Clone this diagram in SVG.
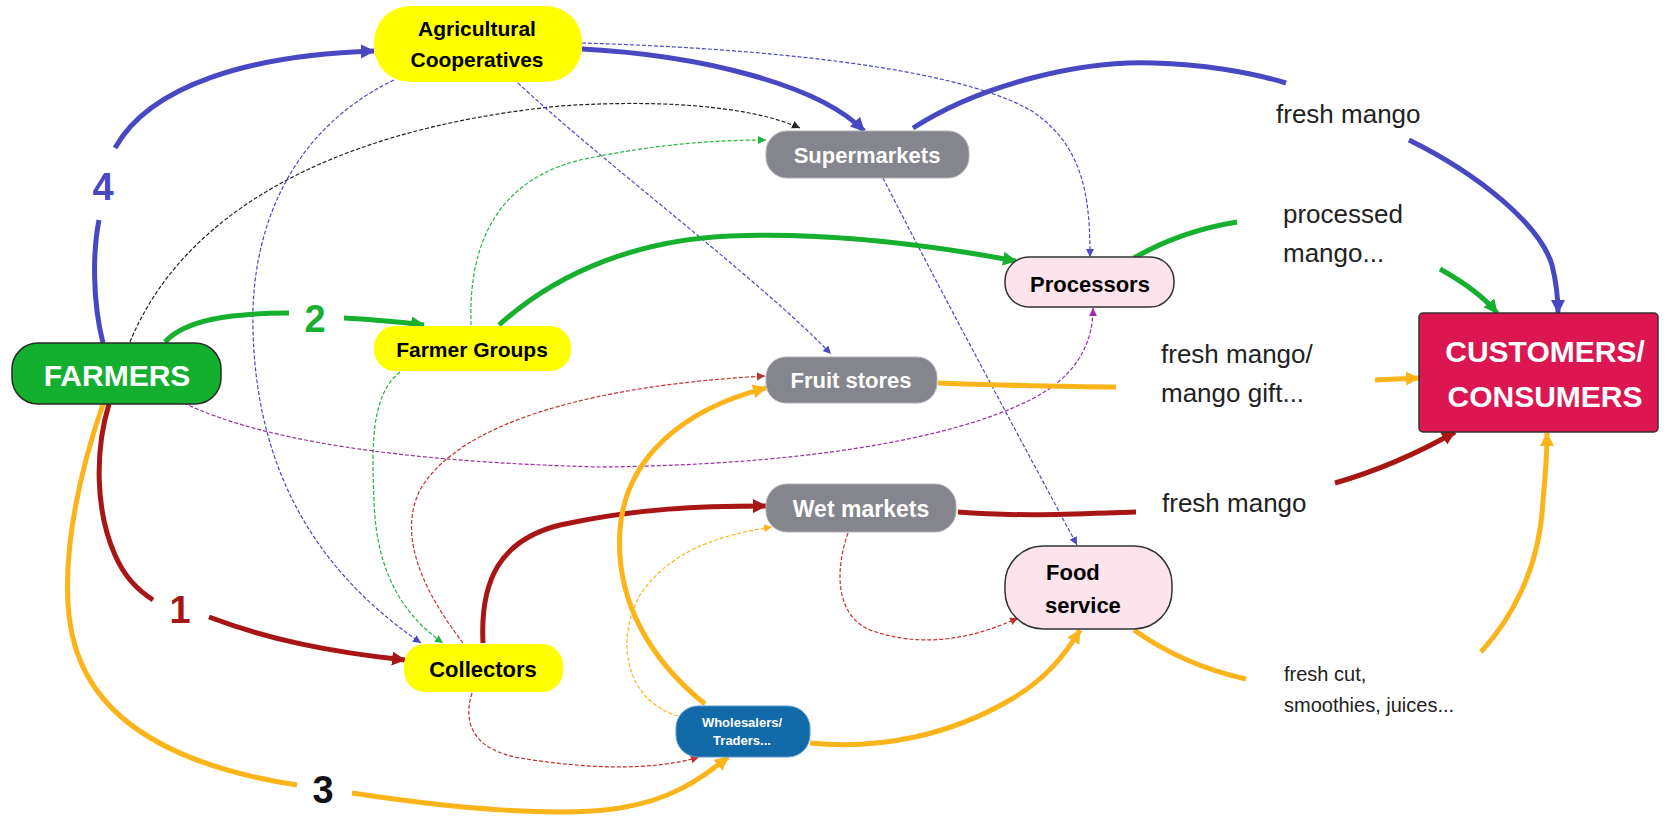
<svg xmlns="http://www.w3.org/2000/svg" width="1667" height="818" viewBox="0 0 1667 818">
<style>
.thick{fill:none;stroke-width:5;stroke-linecap:butt}
.thin{fill:none;stroke-width:1.2;stroke-dasharray:4 2}
.b{stroke:#4848c2}.g{stroke:#16b02e}.r{stroke:#a81515}.o{stroke:#fbb41a}
.tk{stroke:#222}.tg{stroke:#22b43c}.tb{stroke:#4a4ac8}.tp{stroke:#9b2fa2}.tr{stroke:#c4302e}.to{stroke:#fbb41a}
.nb{font-family:"Liberation Sans",Arial,sans-serif;font-weight:bold;text-anchor:middle}
.lbl{font-family:"Liberation Sans",Arial,sans-serif;fill:#222}
.num{font-family:"Liberation Sans",Arial,sans-serif;font-weight:bold;font-size:38px;text-anchor:middle}
</style>
<defs>
<marker id="aB" markerUnits="userSpaceOnUse" markerWidth="16" markerHeight="16" refX="13" refY="7" orient="auto"><path d="M0,0 L14,7 L0,14 z" fill="#4848c2"/></marker>
<marker id="aG" markerUnits="userSpaceOnUse" markerWidth="16" markerHeight="16" refX="13" refY="7" orient="auto"><path d="M0,0 L14,7 L0,14 z" fill="#16b02e"/></marker>
<marker id="aR" markerUnits="userSpaceOnUse" markerWidth="16" markerHeight="16" refX="13" refY="7" orient="auto"><path d="M0,0 L14,7 L0,14 z" fill="#a81515"/></marker>
<marker id="aO" markerUnits="userSpaceOnUse" markerWidth="16" markerHeight="16" refX="13" refY="7" orient="auto"><path d="M0,0 L14,7 L0,14 z" fill="#fbb41a"/></marker>
<marker id="tK" markerUnits="userSpaceOnUse" markerWidth="10" markerHeight="10" refX="8" refY="4" orient="auto"><path d="M0,0 L8,4 L0,8 z" fill="#222"/></marker>
<marker id="tG" markerUnits="userSpaceOnUse" markerWidth="10" markerHeight="10" refX="8" refY="4" orient="auto"><path d="M0,0 L8,4 L0,8 z" fill="#22b43c"/></marker>
<marker id="tB" markerUnits="userSpaceOnUse" markerWidth="10" markerHeight="10" refX="8" refY="4" orient="auto"><path d="M0,0 L8,4 L0,8 z" fill="#4a4ac8"/></marker>
<marker id="tP" markerUnits="userSpaceOnUse" markerWidth="10" markerHeight="10" refX="8" refY="4" orient="auto"><path d="M0,0 L8,4 L0,8 z" fill="#9b2fa2"/></marker>
<marker id="tR" markerUnits="userSpaceOnUse" markerWidth="10" markerHeight="10" refX="8" refY="4" orient="auto"><path d="M0,0 L8,4 L0,8 z" fill="#c4302e"/></marker>
<marker id="tO" markerUnits="userSpaceOnUse" markerWidth="10" markerHeight="10" refX="8" refY="4" orient="auto"><path d="M0,0 L8,4 L0,8 z" fill="#fbb41a"/></marker>
</defs>
<rect width="1667" height="818" fill="#ffffff"/>

<g id="connectors">
<!-- thin dashed -->
<path class="thin tk" d="M130,342 C180,220 320,130 560,106 C680,98 760,110 800,128" marker-end="url(#tK)"/>
<path class="thin tg" d="M471,325 C468,240 500,180 580,160 C650,145 710,140 766,140" marker-end="url(#tG)"/>
<path class="thin tg" d="M400,372 C370,395 372,450 374,500 C376,580 410,620 443,643" marker-end="url(#tG)"/>
<path class="thin tb" d="M394,80 C290,130 250,230 253,330 C256,450 300,560 421,643" marker-end="url(#tB)"/>
<path class="thin tb" d="M518,83 C600,160 760,280 831,354" marker-end="url(#tB)"/>
<path class="thin tb" d="M582,43 C750,48 950,65 1030,110 C1085,145 1090,200 1090,257" marker-end="url(#tB)"/>
<path class="thin tb" d="M883,178 C940,290 1010,420 1077,545" marker-end="url(#tB)"/>
<path class="thin tp" d="M184,403 C260,440 400,462 600,467 C800,465 950,440 1030,400 C1080,375 1093,340 1093,308" marker-end="url(#tP)"/>
<path class="thin tr" d="M463,643 C430,600 395,540 420,490 C460,420 600,385 765,376" marker-end="url(#tR)"/>
<path class="thin tr" d="M472,693 C462,725 475,750 520,758 C580,768 650,772 699,757" marker-end="url(#tR)"/>
<path class="thin to" d="M678,716 C625,700 615,640 640,595 C670,550 720,535 772,527" marker-end="url(#tO)"/>
<path class="thin tr" d="M848,533 C835,570 835,615 870,630 C920,648 970,640 1018,618" marker-end="url(#tR)"/>
<!-- thick blue -->
<path class="thick b" d="M103,343 C92,300 93,250 99,220"/>
<path class="thick b" d="M115,148 C150,85 250,55 374,51" marker-end="url(#aB)"/>
<path class="thick b" d="M582,49 C700,55 820,85 864,131" marker-end="url(#aB)"/>
<path class="thick b" d="M913,128 C980,85 1080,60 1154,63 C1200,64 1250,72 1286,83"/>
<path class="thick b" d="M1409,140 C1480,175 1540,225 1552,265 C1557,285 1558,300 1558,313" marker-end="url(#aB)"/>
<!-- thick green -->
<path class="thick g" d="M165,342 C185,320 230,313 289,313"/>
<path class="thick g" d="M344,318 C380,320 400,322 424,325" marker-end="url(#aG)"/>
<path class="thick g" d="M499,325 C560,270 640,240 730,236 C830,232 930,245 1016,261" marker-end="url(#aG)"/>
<path class="thick g" d="M1134,258 C1165,240 1200,228 1237,222"/>
<path class="thick g" d="M1440,269 C1465,283 1485,298 1497,313" marker-end="url(#aG)"/>
<!-- thick red -->
<path class="thick r" d="M109,404 C95,450 95,510 115,555 C125,578 138,590 153,600"/>
<path class="thick r" d="M209,617 C270,640 330,652 405,660" marker-end="url(#aR)"/>
<path class="thick r" d="M483,643 C480,580 500,540 560,525 C640,508 700,506 766,506" marker-end="url(#aR)"/>
<path class="thick r" d="M958,512 C1020,517 1080,514 1136,512"/>
<path class="thick r" d="M1335,483 C1380,470 1420,452 1455,432" marker-end="url(#aR)"/>
<!-- thick orange -->
<path class="thick o" d="M103,404 C70,500 55,600 80,660 C110,735 200,770 297,785"/>
<path class="thick o" d="M352,793 C450,808 560,818 620,808 C670,800 700,780 728,757" marker-end="url(#aO)"/>
<path class="thick o" d="M705,704 C650,660 615,600 620,530 C625,460 680,410 766,388" marker-end="url(#aO)"/>
<path class="thick o" d="M938,383 C1000,385 1060,387 1116,387"/>
<path class="thick o" d="M1375,380 L1419,378" marker-end="url(#aO)"/>
<path class="thick o" d="M810,743 C880,750 950,735 1010,700 C1045,680 1065,655 1080,630" marker-end="url(#aO)"/>
<path class="thick o" d="M1134,630 C1165,652 1205,670 1246,679"/>
<path class="thick o" d="M1481,652 C1510,620 1540,570 1543,500 C1546,470 1547,450 1547,433" marker-end="url(#aO)"/>
<!-- route numbers -->
<text class="num" x="103" y="200" fill="#4848c2">4</text>
<text class="num" x="315" y="332" fill="#16b02e">2</text>
<text class="num" x="180" y="623" fill="#a81515">1</text>
<text class="num" x="323" y="803" fill="#111">3</text>
<!-- flow labels -->
<text class="lbl" x="1276" y="123" font-size="26">fresh mango</text>
<text class="lbl" x="1283" y="223" font-size="26">processed</text>
<text class="lbl" x="1283" y="262" font-size="26">mango...</text>
<text class="lbl" x="1161" y="363" font-size="26">fresh mango/</text>
<text class="lbl" x="1161" y="402" font-size="26">mango gift...</text>
<text class="lbl" x="1162" y="512" font-size="26">fresh mango</text>
<text class="lbl" x="1284" y="681" font-size="20">fresh cut,</text>
<text class="lbl" x="1284" y="712" font-size="20">smoothies, juices...</text>
</g>

<g id="farmers">
<rect x="12" y="343" width="209" height="61" rx="26" fill="#13b02f" stroke="#2a2a2a" stroke-width="1.5"/>
<text class="nb" x="117" y="386" font-size="30" fill="#ffffff">FARMERS</text>
</g>
<g id="agricultural-cooperatives">
<rect x="374" y="6" width="208" height="76" rx="36" fill="#ffff00"/>
<text class="nb" x="477" y="36" font-size="21" fill="#000">Agricultural</text>
<text class="nb" x="477" y="67" font-size="21" fill="#000">Cooperatives</text>
</g>
<g id="farmer-groups">
<rect x="374" y="326" width="197" height="45" rx="21" fill="#ffff00"/>
<text class="nb" x="472" y="357" font-size="21" fill="#000">Farmer Groups</text>
</g>
<g id="collectors">
<rect x="404" y="644" width="159" height="48" rx="21" fill="#ffff00"/>
<text class="nb" x="483" y="677" font-size="22" fill="#000">Collectors</text>
</g>
<g id="supermarkets">
<rect x="766" y="131" width="203" height="47" rx="21" fill="#85858d" stroke="#b0b0b6" stroke-width="1"/>
<text class="nb" x="867" y="163" font-size="22" fill="#ffffff">Supermarkets</text>
</g>
<g id="fruit-stores">
<rect x="766" y="357" width="171" height="46" rx="20" fill="#85858d" stroke="#b0b0b6" stroke-width="1"/>
<text class="nb" x="851" y="388" font-size="22" fill="#ffffff">Fruit stores</text>
</g>
<g id="wet-markets">
<rect x="766" y="484" width="190" height="48" rx="21" fill="#85858d" stroke="#b0b0b6" stroke-width="1"/>
<text class="nb" x="861" y="517" font-size="23" fill="#ffffff">Wet markets</text>
</g>
<g id="wholesalers">
<rect x="676" y="706" width="134" height="51" rx="22" fill="#136aa8" stroke="#5b9bd0" stroke-width="1"/>
<text class="nb" x="742" y="727" font-size="13" fill="#ffffff">Wholesalers/</text>
<text class="nb" x="742" y="745" font-size="13" fill="#ffffff">Traders...</text>
</g>
<g id="processors">
<rect x="1005" y="257" width="169" height="50" rx="24" fill="#fde4ec" stroke="#333" stroke-width="1.5"/>
<text class="nb" x="1090" y="292" font-size="22" fill="#000">Processors</text>
</g>
<g id="food-service">
<rect x="1005" y="546" width="167" height="83" rx="38" fill="#fde4ec" stroke="#333" stroke-width="1.5"/>
<text class="nb" x="1046" y="580" font-size="22" fill="#000" text-anchor="start" style="text-anchor:start">Food</text>
<text class="nb" x="1045" y="613" font-size="22" fill="#000" style="text-anchor:start">service</text>
</g>
<g id="customers">
<rect x="1419" y="313" width="239" height="119" rx="4" fill="#dc1650" stroke="#333" stroke-width="1.5"/>
<text class="nb" x="1545" y="362" font-size="30" fill="#ffffff">CUSTOMERS/</text>
<text class="nb" x="1545" y="407" font-size="30" fill="#ffffff">CONSUMERS</text>
</g>
</svg>
